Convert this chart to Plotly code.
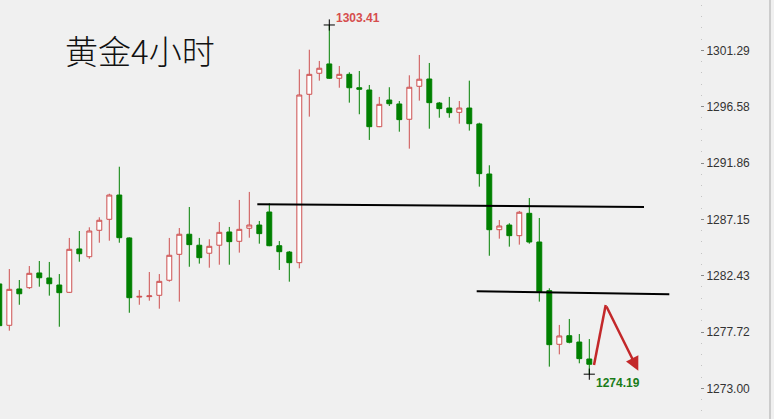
import plotly.graph_objects as go

# ---- data (4-hour gold candles) ----
bar_index = list(range(60))
opens = [1281.74, 1278.28, 1281.32, 1281.43, 1282.66, 1282.24, 1281.65, 1281.04, 1284.67, 1284.02,
         1286.23, 1287.15, 1289.18, 1285.59, 1280.64, 1280.68, 1280.79, 1282.05, 1284.22, 1285.90,
         1284.98, 1284.31, 1284.98, 1286.09, 1285.31, 1286.40, 1286.67, 1287.76, 1284.94, 1284.41,
         1283.52, 1297.61, 1299.37, 1300.15, 1298.95, 1299.28, 1298.16, 1297.97, 1294.90, 1297.13,
         1296.80, 1295.52, 1298.28, 1298.89, 1296.88, 1296.46, 1296.10, 1296.46, 1295.13, 1290.94,
         1286.28, 1286.67, 1285.78, 1287.65, 1285.25, 1281.18, 1276.69, 1277.41, 1276.88, 1275.46]
highs = [1282.07, 1282.99, 1282.07, 1283.24, 1283.66, 1283.58, 1282.57, 1285.59, 1286.17, 1286.48,
         1287.32, 1289.29, 1291.55, 1285.64, 1281.23, 1282.74, 1282.57, 1285.59, 1286.42, 1288.18,
         1285.59, 1285.48, 1286.92, 1286.51, 1288.77, 1289.44, 1287.01, 1288.49, 1285.33, 1284.50,
         1299.70, 1301.34, 1300.40, 1303.41, 1299.98, 1299.45, 1299.56, 1298.39, 1297.39, 1298.20,
         1297.05, 1299.20, 1300.90, 1300.23, 1296.97, 1297.39, 1297.05, 1298.75, 1295.23, 1291.67,
         1287.09, 1286.82, 1287.85, 1288.93, 1287.26, 1281.38, 1278.31, 1278.81, 1277.55, 1277.13]
lows = [1277.89, 1277.83, 1280.00, 1281.32, 1281.51, 1280.76, 1278.16, 1280.99, 1283.60, 1283.85,
        1285.19, 1285.36, 1285.19, 1279.33, 1280.00, 1280.34, 1279.67, 1281.93, 1280.26, 1283.18,
        1283.44, 1283.10, 1283.35, 1283.35, 1284.36, 1285.61, 1285.11, 1284.90, 1282.91, 1281.93,
        1283.05, 1295.74, 1298.75, 1298.90, 1298.16, 1296.91, 1295.94, 1293.79, 1294.86, 1296.63,
        1294.48, 1293.06, 1297.08, 1294.73, 1295.65, 1295.65, 1295.15, 1294.57, 1289.88, 1284.10,
        1285.53, 1284.86, 1285.03, 1285.11, 1280.26, 1274.82, 1275.85, 1276.77, 1275.10, 1274.19]
closes = [1278.25, 1281.29, 1280.92, 1282.63, 1282.26, 1281.76, 1281.01, 1284.64, 1284.27, 1286.17,
          1287.07, 1289.18, 1285.61, 1280.59, 1280.70, 1280.74, 1281.96, 1284.14, 1285.90, 1285.03,
          1283.94, 1284.89, 1286.06, 1285.28, 1286.31, 1286.67, 1285.95, 1284.94, 1284.44, 1283.52,
          1297.55, 1299.28, 1299.79, 1298.95, 1299.28, 1298.16, 1298.03, 1294.90, 1296.77, 1296.82,
          1295.49, 1298.20, 1298.87, 1296.91, 1296.41, 1296.07, 1296.46, 1295.15, 1290.97, 1286.28,
          1286.59, 1285.78, 1287.74, 1285.25, 1281.09, 1276.66, 1277.39, 1276.86, 1275.49, 1275.02]

price_ticks = [1273.00, 1277.72, 1282.43, 1287.15, 1291.86, 1296.58, 1301.29]
price_tick_labels = ["1273.00", "1277.72", "1282.43", "1287.15", "1291.86", "1296.58", "1301.29"]

# extremes marked on the chart
high_mark = (33, 1303.41)
low_mark = (59, 1274.19)

# hand-drawn level lines: (x0, y0, x1, y1) in bar index / price
level_lines = [(25.8, 1288.41, 64.47, 1288.18),
               (47.74, 1281.13, 67.0, 1280.87)]

# hand-drawn forecast arrow
arrow_x = [59.47, 60.64, 63.9]
arrow_y = [1274.96, 1279.98, 1274.48]

title_text = "黄金4小时"

BG = "#f0f0f0"
RED = "#cd4f4f"
GREEN = "#008000"
ARROW_RED = "#c3282a"

fig = go.Figure()
fig.add_trace(go.Candlestick(
    x=bar_index, open=opens, high=highs, low=lows, close=closes,
    increasing=dict(line=dict(color=RED, width=1), fillcolor="#ffffff"),
    decreasing=dict(line=dict(color=GREEN, width=1), fillcolor=GREEN),
    whiskerwidth=0, showlegend=False, hoverinfo="skip",
))

fig.add_trace(go.Scatter(
    x=[high_mark[0], low_mark[0]], y=[high_mark[1], low_mark[1]],
    mode="markers",
    marker=dict(symbol="cross-thin", size=8, line=dict(color="#000000", width=1)),
    showlegend=False, hoverinfo="skip",
))

# first leg of the arrow
fig.add_trace(go.Scatter(
    x=arrow_x[:2], y=arrow_y[:2], mode="lines",
    line=dict(color=ARROW_RED, width=2.5), showlegend=False, hoverinfo="skip",
))

shapes = []
for (x0, y0, x1, y1) in level_lines:
    shapes.append(dict(type="line", xref="x", yref="y", x0=x0, y0=y0, x1=x1, y1=y1,
                       line=dict(color="#000000", width=2)))
# separator of the price scale panel
shapes.append(dict(type="line", xref="paper", yref="paper", x0=770 / 700, x1=770 / 700,
                   y0=0, y1=1, line=dict(color="#a8a8a8", width=1)))

annotations = [
    dict(x=arrow_x[2], y=arrow_y[2], ax=arrow_x[1], ay=arrow_y[1],
         xref="x", yref="y", axref="x", ayref="y", text="", showarrow=True,
         arrowhead=2, arrowsize=1.1, arrowwidth=2.5, arrowcolor=ARROW_RED),
    dict(x=high_mark[0], y=high_mark[1], xref="x", yref="y", text="<b>1303.41</b>",
         showarrow=False, xanchor="left", yanchor="middle", xshift=5, yshift=7,
         font=dict(family="Liberation Sans, Arial", size=12, color="#d64d4d")),
    dict(x=low_mark[0], y=low_mark[1], xref="x", yref="y", text="<b>1274.19</b>",
         showarrow=False, xanchor="left", yanchor="middle", xshift=5, yshift=-9,
         font=dict(family="Liberation Sans, Arial", size=12, color="#1a7d1a")),
    dict(x=63 / 700, y=1 - 50 / 419, xref="paper", yref="paper", text=title_text,
         showarrow=False, xanchor="left", yanchor="middle",
         font=dict(family="Noto Sans CJK SC", size=33, color="#111111", weight=300)),
]

fig.update_layout(
    width=774, height=419,
    margin=dict(l=0, r=74, t=0, b=0),
    paper_bgcolor=BG, plot_bgcolor=BG,
    shapes=shapes, annotations=annotations,
    xaxis=dict(range=[0.07, 70.07], visible=False, rangeslider=dict(visible=False),
               showgrid=False, zeroline=False),
    yaxis=dict(range=[1270.44, 1305.50], side="right", showgrid=False, zeroline=False,
               tickvals=price_ticks, ticktext=price_tick_labels,
               ticks="outside", ticklen=3, tickcolor="#8a8a8a",
               tickfont=dict(family="Liberation Sans, Arial", size=12, color="#333333"),
               minor=dict(dtick=0.943, tick0=1273.0, ticks="outside", ticklen=1,
                          tickcolor="#c4c4c4"),
               showline=False),
    hovermode=False,
)

fig.write_html("out.html", config={"displayModeBar": False},
               post_script="document.body.style.margin='0';")
